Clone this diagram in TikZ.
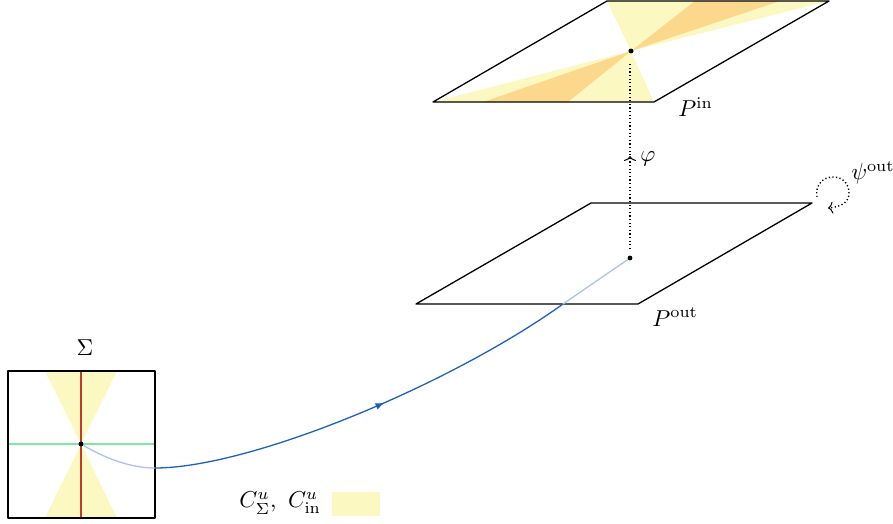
\documentclass[tikz,border=0pt]{standalone}
\usepackage{amsmath}
\usepackage{amssymb}
\usepackage{xcolor}
\usetikzlibrary{arrows.meta,decorations.markings}
\definecolor{conefill}{HTML}{FCF8C2}
\definecolor{overlapfill}{HTML}{FCD88C}
\definecolor{orbitdark}{HTML}{1F5FBF}
\definecolor{orbitlight}{HTML}{A9C5E8}
\definecolor{stableline}{HTML}{C23A2C}
\definecolor{unstableline}{HTML}{7FE8A0}

\begin{document}
\begin{tikzpicture}[
  x=0.5pt, y=-0.5pt,
  plane/.style={draw=black, line width=0.65pt, line join=round},
  dotpt/.style={circle, fill=black, inner sep=0pt, minimum size=2.4pt},
  lbl/.style={inner sep=0pt, scale=1.15},
  maparrow/.style={line width=0.7pt, dash pattern=on 0.6pt off 1.2pt},
  orbit/.style={draw=orbitdark, line width=0.65pt},
  orbitfaint/.style={draw=orbitlight, line width=0.65pt}
]
\useasboundingbox (0,0) rectangle (893,524);
% section Sigma
\coordinate (sw) at (8,518);
\coordinate (se) at (155,518);
\coordinate (ne) at (155,371);
\coordinate (nw) at (8,371);
\node[dotpt] (s0) at (81,444) {};
\fill[conefill] (s0.center) -- (45,371) -- (117,371) -- cycle;
\fill[conefill] (s0.center) -- (45,518) -- (117,518) -- cycle;
\draw[stableline, line width=0.55pt] (81,371) -- (81,518);
\draw[unstableline, line width=0.8pt] (8,444) -- (155,444);
\draw[plane] (sw) -- (se) -- (ne) -- (nw) -- cycle;
\node[dotpt] at (s0) {};
\node[lbl] (sigmalbl) at (85,348) {$\Sigma$};
% entry plane
\node[dotpt] (pin) at (631,51) {};
\fill[conefill] (pin.center) -- (607,1) -- (829,1) -- cycle;
\fill[conefill] (pin.center) -- (433,102) -- (654,102) -- cycle;
\fill[overlapfill] (pin.center) -- (695,1) -- (780,1) -- cycle;
\fill[overlapfill] (pin.center) -- (483,102) -- (568,102) -- cycle;
\draw[plane] (607,1) -- (829,1) -- (654,102) -- (433,102) -- cycle;
\node[dotpt] at (pin) {};
\node[lbl, anchor=west] (pinlbl) at (678,107) {$P^{\mathrm{in}}$};
% exit plane
\draw[plane] (591,203) -- (812,203) -- (638,304) -- (416,304) -- cycle;
\node[lbl, anchor=west] (poutlbl) at (652,317) {$P^{\mathrm{out}}$};
% orbit
\coordinate (o1) at (155,468);
\coordinate (o2) at (563,304);
\node[dotpt] (pout) at (630,258) {};
\draw[orbitfaint] (s0) .. controls (105,458) and (130,468) .. (o1);
\draw[orbit, postaction={decorate}, decoration={markings, mark=at position 0.54 with {\arrow{Latex[length=4.5pt,width=3.5pt]}}}]
  (o1) .. controls (250,468) and (450,385) .. (o2);
\draw[orbitfaint] (o2) -- (pout);
% maps
\coordinate (mapa) at (630,249);
\coordinate (mapb) at (630,63);
\draw[maparrow, postaction={decorate}, decoration={markings, mark=at position 0.5 with {\arrow[solid,line width=0.5pt]{To[length=2.5pt,width=6pt]}}}] (mapa) -- (mapb);
\node[lbl] (philbl) at (648,159) {$\varphi$};
\coordinate (loopa) at (817,197);
\coordinate (loopb) at (828,208);
\draw[maparrow, -{To[length=2.5pt,width=6pt,line width=0.5pt]}] (loopa) .. controls (815,185) and (823,177) .. (833,177) .. controls (843,177) and (849,184) .. (849,193) .. controls (849,203) and (840,207) .. (loopb);
\node[lbl] (psilbl) at (873,173) {$\psi^{\mathrm{out}}$};
% legend
\node[lbl, anchor=west] (keylbl) at (239,503) {$C^u_{\Sigma},\ C^u_{\mathrm{in}}$};
\fill[conefill] (332,492) rectangle (380,516);
\end{tikzpicture}
\end{document}
